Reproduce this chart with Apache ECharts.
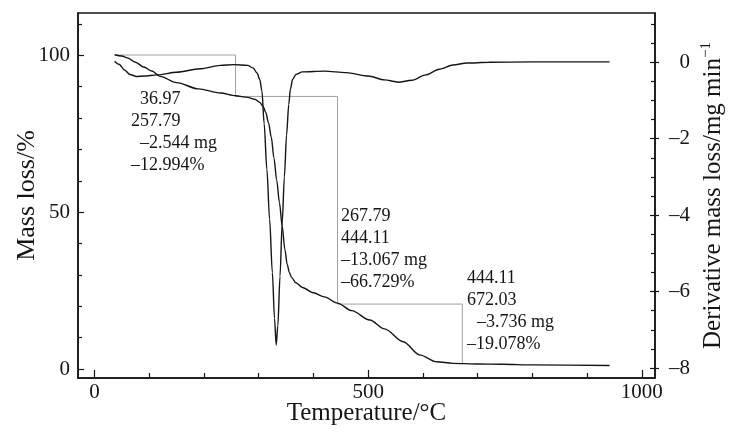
<!DOCTYPE html>
<html>
<head>
<meta charset="utf-8">
<script src="https://cdn.jsdelivr.net/npm/echarts@6/dist/echarts.min.js"></script>
<style>
  html, body { margin: 0; padding: 0; background: #fff; }
  #chart { width: 732px; height: 435px; }
</style>
</head>
<body>
<div id="chart"></div>
<script>
// TG curve (left axis, %)
const tgTemp = [37, 50, 60, 75, 90, 105, 120, 150, 190, 230, 258, 280, 293, 302, 308, 313, 318, 323, 328, 333, 338, 343, 348, 352, 356, 360, 368, 380, 400, 420, 444, 470, 503, 530, 564, 594, 625, 655, 700, 746, 800, 941]
const tgMass = [100.2, 99.8, 99.2, 97.8, 96.3, 95, 93.3, 91.3, 89.3, 88, 87.1, 86.6, 86, 85, 83.8, 81.8, 78.5, 74, 67.2, 60.2, 53, 45.5, 38, 33.5, 30.8, 29.2, 27.5, 26, 24.3, 23, 21, 18.6, 15.6, 12.8, 8.7, 4.5, 2.3, 1.8, 1.6, 1.5, 1.3, 1.1]

// DTG curve (right axis, mg/min)
const dtgTemp = [37, 45, 55, 65, 77, 90, 115, 150, 193, 230, 255, 280, 290, 297, 302, 306, 310, 315, 320, 325, 329, 332, 335, 339, 343, 347, 351, 355, 358, 362, 368, 380, 420, 460, 500, 530, 555, 580, 605, 630, 655, 680, 720, 800, 941]
const dtgRate = [0.03, -0.05, -0.2, -0.32, -0.37, -0.36, -0.33, -0.26, -0.17, -0.08, -0.06, -0.08, -0.15, -0.28, -0.45, -0.75, -1.6, -2.8, -4.1, -5.5, -6.7, -7.4, -6.9, -5.6, -4.2, -3.0, -1.9, -1.1, -0.7, -0.45, -0.32, -0.25, -0.23, -0.27, -0.36, -0.46, -0.52, -0.47, -0.33, -0.18, -0.07, -0.02, 0, 0.01, 0.01]

// step lines of the mass loss analysis
const stepTemp = [36.97, 257.79, 257.79, 444.11, 444.11, 672.03, 672.03]
const stepMass = [100.1, 100.1, 86.9, 86.9, 20.7, 20.7, 1.8]

const noteStep1 = ['36.97', '257.79', '–2.544 mg', '–12.994%']
const noteStep2 = ['267.79', '444.11', '–13.067 mg', '–66.729%']
const noteStep3 = ['444.11', '672.03', '–3.736 mg', '–19.078%']

const xMajor = [0, 500, 1000]
const xMinor = [100, 200, 300, 400, 600, 700, 800, 900]
const leftMajor = [0, 50, 100]
const leftMinor = [10, 20, 30, 40, 60, 70, 80, 90, 110]
const rightMajor = [0, -2, -4, -6, -8]
const rightMinor = [1, 0.5, -0.5, -1, -1.5, -2.5, -3, -3.5, -4.5, -5, -5.5, -6.5, -7, -7.5]

const FONT = 'Liberation Serif, Times New Roman, serif'
const INK = '#151515'

const zip = (a, b) => a.map((v, i) => [v, b[i]])
const dash = v => (v < 0 ? '–' + Math.abs(v) : String(v))

const chart = echarts.init(document.getElementById('chart'))

// hidden helper axes that only draw tick marks
const tickAxis = (base, values, len, inside) => Object.assign({}, base, {
  name: '',
  axisLine: { show: false, onZero: false },
  axisLabel: { show: false },
  splitLine: { show: false },
  axisTick: { show: true, inside: inside, length: len, customValues: values, lineStyle: { color: INK, width: 1.2 } }
})

const xBase = { type: 'value', min: -30, max: 1024, position: 'bottom' }
const leftBase = { type: 'value', min: -2.87, max: 113.5, position: 'left' }
const rightBase = { type: 'value', min: -8.26, max: 1.29, position: 'right' }

const textBlock = (lines, x, y, indents) => lines.map((t, i) => ({
  type: 'text',
  x: x + (indents[i] || 0),
  y: y + i * 22,
  style: { text: t, fontSize: 18, fontFamily: FONT, fill: INK, verticalAlign: 'middle' }
}))

const options = {
  animation: false,
  grid: {
    left: 78, right: 77, top: 13, bottom: 57,
    outerBoundsMode: 'none',
    show: true, borderColor: INK, borderWidth: 1.5
  },
  xAxis: [
    Object.assign({}, xBase, {
      name: 'Temperature/°C',
      nameLocation: 'middle',
      nameGap: 23,
      nameMoveOverlap: false,
      nameTextStyle: { fontSize: 25, fontFamily: FONT, color: INK },
      axisLine: { onZero: false, lineStyle: { color: INK, width: 1.5 } },
      axisTick: { inside: true, length: 8, customValues: xMajor, lineStyle: { color: INK, width: 1.2 } },
      axisLabel: { customValues: xMajor, formatter: String, fontSize: 21, fontFamily: FONT, color: INK, margin: 4 },
      splitLine: { show: false }
    }),
    tickAxis(xBase, xMinor, 5, true)
  ],
  yAxis: [
    Object.assign({}, leftBase, {
      name: 'Mass loss/%',
      nameLocation: 'middle',
      nameRotate: 90,
      nameGap: 38,
      nameMoveOverlap: false,
      nameTextStyle: { fontSize: 26, fontFamily: FONT, color: INK },
      axisLine: { onZero: false, lineStyle: { color: INK, width: 1.5 } },
      axisTick: { inside: true, length: 6, customValues: leftMajor, lineStyle: { color: INK, width: 1.2 } },
      axisLabel: { customValues: leftMajor, fontSize: 21, fontFamily: FONT, color: INK, margin: 8 },
      splitLine: { show: false }
    }),
    Object.assign({}, rightBase, {
      name: 'Derivative mass loss/mg min{sup|−1}',
      nameLocation: 'middle',
      nameRotate: 90,
      nameGap: 44,
      nameMoveOverlap: false,
      nameTextStyle: {
        fontSize: 25, fontFamily: FONT, color: INK,
        rich: { sup: { fontSize: 15, fontFamily: FONT, color: INK, padding: [0, 0, 14, 0] } }
      },
      axisLine: { onZero: false, lineStyle: { color: INK, width: 1.5 } },
      axisTick: { inside: true, length: 5, customValues: rightMajor, lineStyle: { color: INK, width: 1.2 } },
      axisLabel: { customValues: rightMajor, formatter: dash, align: 'right', fontSize: 21, fontFamily: FONT, color: INK, margin: 35 },
      splitLine: { show: false }
    }),
    tickAxis(leftBase, leftMinor, 4, true),
    tickAxis(rightBase, rightMinor, 4, true),
    tickAxis(rightBase, rightMajor, 4, false)
  ],
  series: [
    {
      type: 'line',
      xAxisIndex: 0,
      yAxisIndex: 0,
      data: zip(stepTemp, stepMass),
      symbol: 'none',
      lineStyle: { color: '#a0a0a0', width: 1 },
      z: 1
    },
    {
      type: 'line',
      xAxisIndex: 0,
      yAxisIndex: 0,
      data: zip(tgTemp, tgMass),
      symbol: 'none',
      smooth: 0.3,
      smoothMonotone: 'x',
      lineStyle: { color: INK, width: 1.4 },
      z: 3
    },
    {
      type: 'line',
      xAxisIndex: 0,
      yAxisIndex: 1,
      data: zip(dtgTemp, dtgRate),
      symbol: 'none',
      smooth: 0.3,
      smoothMonotone: 'x',
      lineStyle: { color: INK, width: 1.4 },
      z: 3
    }
  ],
  graphic: [].concat(
    textBlock(noteStep1, 131, 99, [9, 0, 9, 0]),
    textBlock(noteStep2, 341, 216, [0, 0, 0, 0]),
    textBlock(noteStep3, 467, 278, [0, 0, 10, 0])
  )
}

chart.setOption(options)
</script>
</body>
</html>
